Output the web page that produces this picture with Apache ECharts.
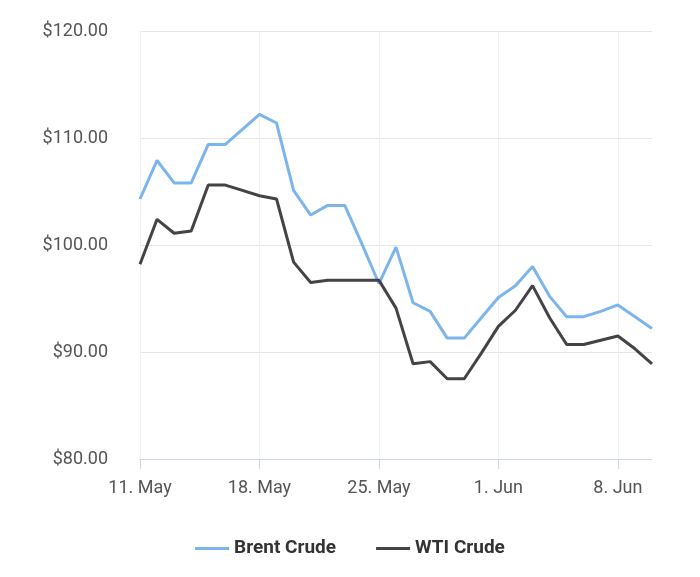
<!DOCTYPE html>
<html>
<head>
<meta charset="utf-8">
<title>Brent vs WTI</title>
<script src="https://cdn.jsdelivr.net/npm/echarts@6/dist/echarts.min.js"></script>
<style>html,body{margin:0;padding:0;background:#fff}</style>
</head>
<body>
<div id="chart" style="width:700px;height:577px;"></div>
<script>
// days 11 May .. 10 Jun
var days = ['11. May','12. May','13. May','14. May','15. May','16. May','17. May','18. May','19. May','20. May',
  '21. May','22. May','23. May','24. May','25. May','26. May','27. May','28. May','29. May','30. May',
  '31. May','1. Jun','2. Jun','3. Jun','4. Jun','5. Jun','6. Jun','7. Jun','8. Jun','9. Jun','10. Jun'];
var brent = [104.3,107.9,105.8,105.8,109.4,109.4,110.8,112.2,111.4,105.1,102.8,103.7,103.7,100.1,96.4,
  99.8,94.6,93.8,91.3,91.3,93.2,95.1,96.2,98.0,95.2,93.3,93.3,93.8,94.4,93.3,92.2];
var wti = [98.2,102.4,101.1,101.3,105.6,105.6,105.1,104.6,104.3,98.4,96.5,96.7,96.7,96.7,96.7,
  94.1,88.9,89.1,87.5,87.5,89.9,92.4,93.9,96.2,93.2,90.7,90.7,91.1,91.5,90.3,88.9];

var chart = echarts.init(document.getElementById('chart'));
chart.setOption({
  animation: false,
  color: ['#7cb5ec', '#434348'],
  textStyle: {fontFamily: 'Roboto'},
  grid: {left: 140, right: 48, top: 31, bottom: 118},
  legend: {
    bottom: 14, left: 'center', itemWidth: 34, itemHeight: 3, itemGap: 40,
    icon: 'rect',
    textStyle: {fontSize: 19, fontWeight: 'bold', color: '#333'},
    data: ['Brent Crude', 'WTI Crude']
  },
  xAxis: {
    type: 'category', data: days, boundaryGap: false,
    axisLine: {lineStyle: {color: '#ccd6eb'}},
    axisTick: {interval: 6, length: 10, lineStyle: {color: '#ccd6eb'}},
    axisLabel: {interval: 6, color: '#555', fontSize: 18, margin: 20},
    splitLine: {show: true, interval: 6, lineStyle: {color: '#f0f0f0'}}
  },
  yAxis: {
    type: 'value', min: 80, max: 120, interval: 10,
    axisLabel: {color: '#555', fontSize: 18, margin: 32,
      formatter: function (v) { return '$' + v.toFixed(2); }},
    splitLine: {lineStyle: {color: '#e6e6e6'}}
  },
  series: [
    {name: 'Brent Crude', type: 'line', data: brent, showSymbol: false, lineStyle: {width: 3}},
    {name: 'WTI Crude', type: 'line', data: wti, showSymbol: false, lineStyle: {width: 3}}
  ]
});
</script>
</body>
</html>
